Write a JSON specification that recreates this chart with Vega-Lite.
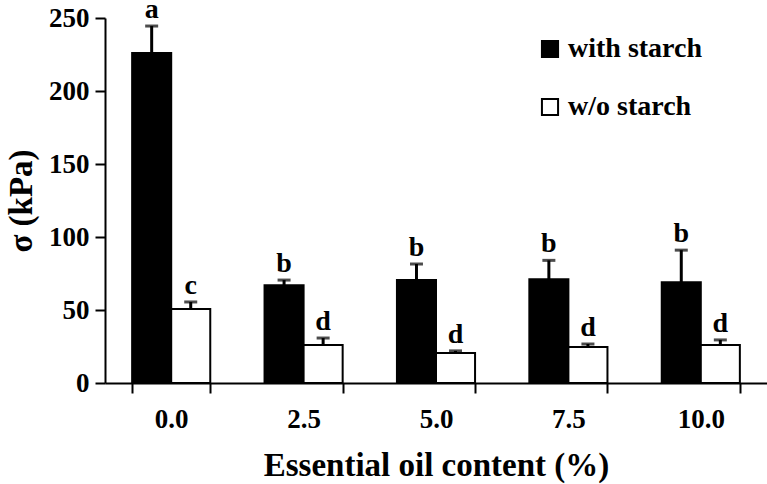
{
  "$schema": "https://vega.github.io/schema/vega-lite/v6.json",
  "width": 662,
  "height": 365,
  "autosize": "none",
  "padding": {"left": 105, "top": 18, "right": 0, "bottom": 101},
  "background": "white",
  "config": {
    "view": {"stroke": null},
    "font": "Liberation Serif",
    "axis": {"titleFont": "Liberation Serif", "labelFont": "Liberation Serif"},
    "legend": {"labelFont": "Liberation Serif", "titleFont": "Liberation Serif"},
    "text": {"font": "Liberation Serif"}
  },
  "data": {
    "values": [
      {"content": "0.0", "group": "with starch", "value": 226, "upper": 244.5, "letter": "a"},
      {"content": "0.0", "group": "w/o starch", "value": 50.7, "upper": 55.5, "letter": "c"},
      {"content": "2.5", "group": "with starch", "value": 67, "upper": 70.5, "letter": "b"},
      {"content": "2.5", "group": "w/o starch", "value": 26, "upper": 30.8, "letter": "d"},
      {"content": "5.0", "group": "with starch", "value": 70.5, "upper": 81.5, "letter": "b"},
      {"content": "5.0", "group": "w/o starch", "value": 20.5, "upper": 22, "letter": "d"},
      {"content": "7.5", "group": "with starch", "value": 71, "upper": 84, "letter": "b"},
      {"content": "7.5", "group": "w/o starch", "value": 24.6, "upper": 26.7, "letter": "d"},
      {"content": "10.0", "group": "with starch", "value": 69, "upper": 91, "letter": "b"},
      {"content": "10.0", "group": "w/o starch", "value": 26, "upper": 29.5, "letter": "d"}
    ]
  },
  "encoding": {
    "x": {
      "field": "content",
      "type": "nominal",
      "sort": ["0.0", "2.5", "5.0", "7.5", "10.0"],
      "scale": {"paddingInner": 0.41, "paddingOuter": 0.205},
      "axis": {
        "title": "Essential oil content (%)",
        "titleFont": "Liberation Serif",
        "titleFontSize": 33,
        "titleFontWeight": "bold",
        "titleColor": "black",
        "titlePadding": 17,
        "labelAngle": 0,
        "labelFont": "Liberation Serif",
        "labelFontSize": 27,
        "labelFontWeight": "bold",
        "labelColor": "black",
        "labelPadding": 13,
        "domainColor": "black",
        "domainWidth": 2,
        "tickColor": "black",
        "tickWidth": 2,
        "tickSize": 10,
        "tickBand": "extent",
        "grid": false
      }
    },
    "xOffset": {"field": "group", "type": "nominal", "sort": ["with starch", "w/o starch"], "scale": {"paddingInner": 0, "paddingOuter": 0}}
  },
  "layer": [
    {
      "mark": {"type": "bar", "stroke": "black", "strokeWidth": 2},
      "encoding": {
        "y": {
          "field": "value",
          "type": "quantitative",
          "scale": {"domain": [0, 250], "nice": false},
          "axis": {
            "title": "σ (kPa)",
            "titleFont": "Liberation Serif",
            "titleFontSize": 33,
            "titleFontWeight": "bold",
            "titleColor": "black",
            "titlePadding": 10,
            "values": [0, 50, 100, 150, 200, 250],
            "labelFont": "Liberation Serif",
            "labelFontSize": 27,
            "labelFontWeight": "bold",
            "labelColor": "black",
            "labelPadding": 6,
            "domainColor": "black",
            "domainWidth": 2,
            "tickColor": "black",
            "tickWidth": 2,
            "tickSize": 10,
            "grid": false
          }
        },
        "fill": {
          "field": "group",
          "type": "nominal",
          "scale": {"domain": ["with starch", "w/o starch"], "range": ["black", "white"]},
          "legend": {
            "title": null,
            "orient": "none",
            "legendX": 431,
            "legendY": 17,
            "symbolType": "square",
            "symbolSize": 260,
            "symbolStrokeColor": "black",
            "symbolStrokeWidth": 2,
            "labelFont": "Liberation Serif",
            "labelFontSize": 28,
            "labelFontWeight": "bold",
            "labelColor": "black",
            "labelOffset": 4,
            "labelLimit": 300,
            "rowPadding": 30
          }
        }
      }
    },
    {
      "mark": {"type": "rule", "color": "black", "strokeWidth": 3},
      "encoding": {
        "y": {"field": "value", "type": "quantitative"},
        "y2": {"field": "upper"}
      }
    },
    {
      "mark": {"type": "tick", "color": "black", "thickness": 3, "size": 13},
      "encoding": {
        "y": {"field": "upper", "type": "quantitative"}
      }
    },
    {
      "mark": {"type": "text", "font": "Liberation Serif", "fontSize": 28, "fontWeight": "bold", "color": "black", "baseline": "alphabetic", "dy": -8},
      "encoding": {
        "y": {"field": "upper", "type": "quantitative"},
        "text": {"field": "letter"}
      }
    }
  ]
}
